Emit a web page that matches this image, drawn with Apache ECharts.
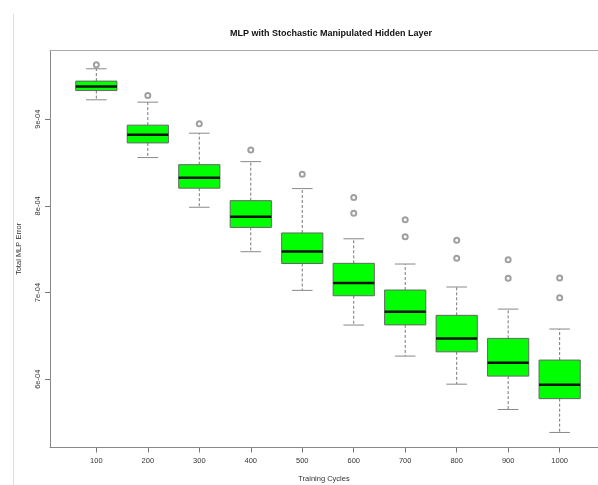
<!DOCTYPE html>
<html><head><meta charset="utf-8">
<script src="https://cdn.jsdelivr.net/npm/echarts@6/dist/echarts.min.js"></script>
<style>html,body{margin:0;padding:0;background:#fff}#c{width:598px;height:485px}</style>
</head><body><div id="c"></div>
<script>
const categories = ['100','200','300','400','500','600','700','800','900','1000'];
const lowerWhisker = [9.223e-4, 8.557e-4, 7.984e-4, 7.471e-4, 7.025e-4, 6.625e-4, 6.267e-4, 5.943e-4, 5.651e-4, 5.386e-4];
const q1 = [9.330e-4, 8.726e-4, 8.204e-4, 7.751e-4, 7.335e-4, 6.963e-4, 6.627e-4, 6.316e-4, 6.036e-4, 5.776e-4];
const median = [9.376e-4, 8.821e-4, 8.324e-4, 7.875e-4, 7.473e-4, 7.110e-4, 6.778e-4, 6.471e-4, 6.189e-4, 5.935e-4];
const q3 = [9.439e-4, 8.931e-4, 8.475e-4, 8.060e-4, 7.687e-4, 7.337e-4, 7.029e-4, 6.737e-4, 6.471e-4, 6.221e-4];
const upperWhisker = [9.581e-4, 9.196e-4, 8.838e-4, 8.510e-4, 8.199e-4, 7.620e-4, 7.329e-4, 7.064e-4, 6.809e-4, 6.579e-4];
const outliers = [[9.627e-4],[9.273e-4],[8.946e-4],[8.645e-4],[8.365e-4],[8.095e-4,7.915e-4],[7.841e-4,7.644e-4],[7.604e-4,7.396e-4],[7.379e-4,7.164e-4],[7.167e-4,6.940e-4]];
const yTickValues = [6e-4, 7e-4, 8e-4, 9e-4];
const yTickLabels = ['6e-04','7e-04','8e-04','9e-04'];
const xPositions = categories.map((c, i) => i + 1);

const boxData = categories.map((c, i) => [i + 1, lowerWhisker[i], q1[i], median[i], q3[i], upperWhisker[i]]);
const outlierData = [];
outliers.forEach((arr, i) => arr.forEach(v => outlierData.push([i + 1, v])));

const FONT = '"Liberation Sans", Arial, sans-serif';
const X_MIN = 0.1, X_MAX = 10.745;
const chart = echarts.init(document.getElementById('c'), null, {renderer: 'canvas'});
chart.setOption({
  backgroundColor: '#fff',
  animation: false,
  title: {
    text: 'MLP with Stochastic Manipulated Hidden Layer',
    left: 225, top: 24,
    textStyle: {fontFamily: FONT, fontSize: 9, fontWeight: 'bold', color: '#111'}
  },
  graphic: [{type: 'line', shape: {x1: 13.5, y1: 14, x2: 13.5, y2: 485}, style: {stroke: '#ddd', lineWidth: 1}, silent: true}],
  grid: {left: 50, right: 0, top: 50.5, bottom: 37.5, show: false, containLabel: false, outerBoundsMode: 'none'},
  xAxis: [{
    type: 'value', min: X_MIN, max: X_MAX,
    name: 'Training Cycles', nameLocation: 'middle', nameGap: 27,
    nameTextStyle: {fontFamily: FONT, fontSize: 7.5, color: '#333'},
    axisLine: {show: true, lineStyle: {color: '#888'}},
    axisTick: {show: true, length: 5, lineStyle: {color: '#777'}, customValues: xPositions},
    axisLabel: {customValues: xPositions, margin: 9, fontFamily: FONT, fontSize: 7.5, color: '#333',
      formatter: v => categories[Math.round(v) - 1]},
    splitLine: {show: false}
  }, {
    type: 'value', position: 'top', min: X_MIN, max: X_MAX,
    axisLine: {show: true, lineStyle: {color: '#aaa'}},
    axisTick: {show: false}, axisLabel: {show: false}, splitLine: {show: false}
  }],
  yAxis: {
    type: 'value', min: 5.2125e-4, max: 9.792e-4,
    name: 'Total MLP Error', nameLocation: 'middle', nameGap: 27,
    nameTextStyle: {fontFamily: FONT, fontSize: 7.5, color: '#333'},
    axisLine: {show: true, lineStyle: {color: '#888'}},
    axisTick: {show: true, length: 5, lineStyle: {color: '#777'}, customValues: yTickValues},
    axisLabel: {customValues: yTickValues, rotate: 90, margin: 8, fontFamily: FONT, fontSize: 7.5, color: '#333',
      formatter: v => { const k = yTickValues.findIndex(t => Math.abs(t - v) < 1e-9); return k >= 0 ? yTickLabels[k] : ''; }},
    splitLine: {show: false}
  },
  series: [
    {
      type: 'custom',
      data: boxData,
      encode: {x: 0, y: [1, 2, 3, 4, 5]},
      renderItem: function (params, api) {
        const x = api.value(0);
        const half = api.size([0.4, 0])[0];
        const cap = half / 2;
        const cx = api.coord([x, 0])[0];
        const yLo = api.coord([x, api.value(1)])[1];
        const yQ1 = api.coord([x, api.value(2)])[1];
        const yMed = api.coord([x, api.value(3)])[1];
        const yQ3 = api.coord([x, api.value(4)])[1];
        const yHi = api.coord([x, api.value(5)])[1];
        const wStyle = {stroke: '#777', lineWidth: 1, lineDash: [3, 2]};
        const cStyle = {stroke: '#888', lineWidth: 1};
        return {
          type: 'group',
          children: [
            {type: 'line', shape: {x1: cx, y1: yQ3, x2: cx, y2: yHi}, style: wStyle},
            {type: 'line', shape: {x1: cx, y1: yQ1, x2: cx, y2: yLo}, style: wStyle},
            {type: 'line', shape: {x1: cx - cap, y1: yHi, x2: cx + cap, y2: yHi}, style: cStyle},
            {type: 'line', shape: {x1: cx - cap, y1: yLo, x2: cx + cap, y2: yLo}, style: cStyle},
            {type: 'rect', shape: {x: cx - half, y: yQ3, width: 2 * half, height: yQ1 - yQ3}, style: {fill: '#00ff00', stroke: '#666', lineWidth: 1}},
            {type: 'line', shape: {x1: cx - half, y1: yMed, x2: cx + half, y2: yMed}, style: {stroke: '#111', lineWidth: 2.5}}
          ]
        };
      }
    },
    {
      type: 'scatter',
      data: outlierData,
      symbol: 'emptyCircle',
      symbolSize: 5,
      itemStyle: {color: '#888', borderWidth: 0.8}
    }
  ]
});
</script>
</body></html>
